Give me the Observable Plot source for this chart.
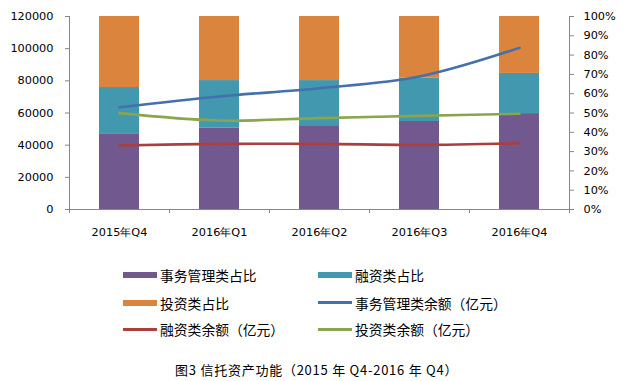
<!DOCTYPE html>
<html>
<head>
<meta charset="utf-8">
<script src="https://cdn.jsdelivr.net/npm/d3@7"></script>
<script src="https://cdn.jsdelivr.net/npm/@observablehq/plot@0.6"></script>
<style>
  html, body { margin: 0; padding: 0; background: #fff; }
  #wrap { position: relative; width: 630px; height: 381px; overflow: hidden; font-family: "Noto Sans CJK SC", sans-serif; }
  #chart { position: absolute; left: 0; top: 0; }
  .leg { position: absolute; display: flex; align-items: center; font-size: 13.8px; color: #000; white-space: nowrap; height: 20px; }
  .sw { display: inline-block; width: 34px; margin-right: 3px; }
  #caption { position: absolute; top: 360px; left: 175px; font-size: 13px; line-height: 20px; letter-spacing: 0.75px; color: #000; white-space: nowrap; font-family: "Noto Sans CJK SC", sans-serif; }
</style>
</head>
<body>
<div id="wrap">
  <div id="chart"></div>
  <div id="legend"></div>
  <div id="caption">图3 信托资产功能（2015 年 Q4-2016 年 Q4）</div>
</div>
<script>
const quarters = ["2015年Q4", "2016年Q1", "2016年Q2", "2016年Q3", "2016年Q4"];
// shares (%)
const shareAffairs   = [38.9, 42.1, 43.0, 45.6, 49.7];
const shareFinancing = [24.3, 24.7, 23.8, 22.4, 20.8];
const shareInvest    = [36.8, 33.2, 33.2, 32.0, 29.5];
// balances (亿元)
const balAffairs   = [63600, 70300, 75400, 82700, 100500];
const balFinancing = [39800, 40800, 40800, 40200, 41200];
const balInvest    = [59900, 55300, 56800, 58200, 59500];
const leftTicks  = [0, 20000, 40000, 60000, 80000, 100000, 120000];
const rightTicks = [0, 10, 20, 30, 40, 50, 60, 70, 80, 90, 100];

const seriesNames = ["事务管理类占比", "融资类占比", "投资类占比", "事务管理类余额（亿元）", "融资类余额（亿元）", "投资类余额（亿元）"];
const colors = ["#71588F", "#4198AF", "#DB843D", "#4470AD", "#AA3F3C", "#89A54E"];

const YMAX = 120000;
const pct = p => p / 100 * YMAX;

const bars = [];
const shareSets = [shareAffairs, shareFinancing, shareInvest];
quarters.forEach((q, i) => {
  let acc = 0;
  shareSets.forEach((arr, k) => {
    bars.push({i, k, y1: pct(acc), y2: pct(acc + arr[i])});
    acc += arr[i];
  });
});
const lineSets = [balAffairs, balFinancing, balInvest];
const lines = [];
lineSets.forEach((arr, k) => arr.forEach((v, i) => lines.push({i, k: k + 3, v})));

const axisColor = "#868686";
const chart = Plot.plot({
  width: 630,
  height: 250,
  marginLeft: 69,
  marginRight: 61,
  marginTop: 16,
  marginBottom: 41,
  style: {fontFamily: "'DejaVu Sans', sans-serif", fontSize: "11.3px", color: "#000", background: "#fff"},
  x: {domain: [0, quarters.length], axis: null},
  y: {domain: [0, YMAX], axis: null},
  marks: [
    Plot.rectY(bars, {x1: d => d.i + 0.3, x2: d => d.i + 0.7, y1: "y1", y2: "y2", fill: d => colors[d.k]}),
    Plot.lineY(lines, {x: d => d.i + 0.5, y: "v", z: "k", stroke: d => colors[d.k], strokeWidth: 2.6, curve: "catmull-rom"}),
    // left axis
    Plot.ruleX([0], {stroke: axisColor}),
    Plot.axisY({anchor: "left", ticks: leftTicks, tickSize: 4, tickPadding: 12, stroke: axisColor, fill: "#000", tickFormat: d => String(d)}),
    // right axis
    Plot.ruleX([quarters.length], {stroke: axisColor}),
    Plot.axisY({anchor: "right", ticks: rightTicks.map(pct), tickSize: 4, tickPadding: 10, stroke: axisColor, fill: "#000", tickFormat: d => Math.round(d / YMAX * 100) + "%"}),
    // x axis
    Plot.ruleY([0], {stroke: axisColor}),
    Plot.axisX({ticks: d3.range(quarters.length + 1), tickSize: 4, stroke: axisColor, tickFormat: () => ""}),
    Plot.axisX({ticks: quarters.map((q, i) => i + 0.5), tickSize: 0, tickPadding: 18, fill: "#000", tickFormat: d => quarters[Math.floor(d)]})
  ]
});
document.getElementById("chart").appendChild(chart);

// legend
const legend = document.getElementById("legend");
const rowsY = [275, 302.5, 329];
const colsX = [123, 318];
seriesNames.forEach((name, k) => {
  const row = Math.floor(k / 2), col = k % 2;
  const el = document.createElement("div");
  el.className = "leg";
  el.style.left = colsX[col] + "px";
  el.style.top = (rowsY[row] - 10) + "px";
  const sw = document.createElement("span");
  sw.className = "sw";
  sw.style.height = k < 3 ? "6px" : "3px";
  sw.style.background = colors[k];
  el.appendChild(sw);
  const tx = document.createElement("span");
  tx.textContent = name;
  el.appendChild(tx);
  legend.appendChild(el);
});
</script>
</body>
</html>
